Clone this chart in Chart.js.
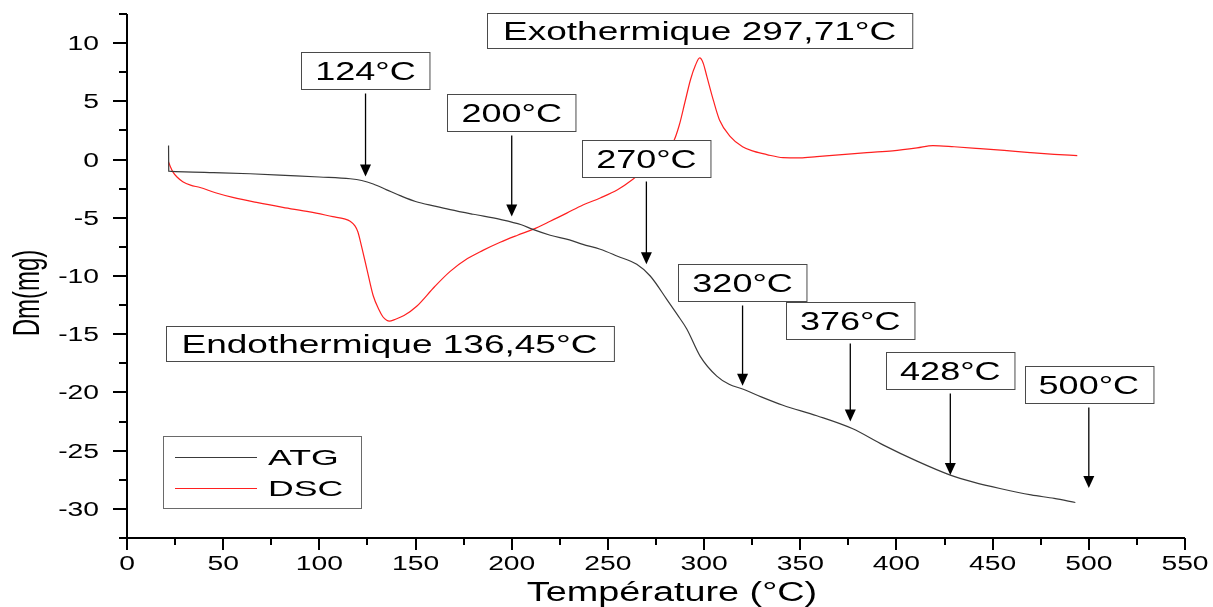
<!DOCTYPE html>
<html>
<head>
<meta charset="utf-8">
<script src="https://cdn.jsdelivr.net/npm/chart.js@4.4.1/dist/chart.umd.min.js"></script>
<style>
  html, body { margin: 0; padding: 0; background: #fff; }
  canvas { display: block; }
</style>
</head>
<body>
<canvas id="chart" width="1213" height="607"></canvas>
<script>
// ATG: mass loss (mg) against temperature (°C)
const atgTemp = [21.6, 21.7, 30, 45, 64, 85, 100, 116, 122, 128, 135, 142, 150, 160, 168, 180, 194, 205, 211,
  220, 230, 237, 246, 255, 265, 272, 280.6, 286, 291, 298, 306.6, 313, 320, 330, 341, 358.6, 377, 393,
  410.7, 428, 440, 453.8, 470, 482, 493];
const atgMass = [1.2, -1.0, -1.05, -1.12, -1.22, -1.38, -1.5, -1.65, -1.8, -2.1, -2.6, -3.1, -3.6, -4.0, -4.3,
  -4.7, -5.14, -5.6, -6.0, -6.5, -6.9, -7.28, -7.7, -8.3, -9.0, -10.0, -12.0, -13.3, -14.55, -16.9, -18.6,
  -19.3, -19.7, -20.4, -21.1, -22.0, -23.1, -24.5, -25.9, -27.1, -27.7, -28.25, -28.8, -29.1, -29.45];

// DSC: heat flow signal against temperature (°C)
const dscTemp = [21.6, 22.5, 24, 26, 29, 33, 38, 46, 55, 68, 81, 95, 107, 113, 116, 118.5, 120, 122, 124.7,
  128, 131, 133, 135, 136.45, 139, 144, 150.6, 160, 168, 177, 185, 194, 203, 211, 220, 228.6, 237, 246,
  255, 263, 268, 274, 280, 284, 287, 290, 293, 295.5, 297.71, 299.5, 301.5, 304.8, 308, 313.5, 320, 326,
  332.6, 341, 350, 358.6, 370, 384.6, 398, 410.7, 419, 430, 443.5, 456, 469.5, 482, 494];
const dscSignal = [-0.2, -0.6, -1.1, -1.5, -1.9, -2.2, -2.4, -2.85, -3.25, -3.7, -4.1, -4.5, -4.9, -5.1, -5.3,
  -5.7, -6.2, -7.5, -9.4, -11.7, -12.9, -13.5, -13.8, -13.87, -13.75, -13.4, -12.6, -10.9, -9.6, -8.5, -7.8,
  -7.1, -6.5, -6.0, -5.3, -4.6, -3.9, -3.3, -2.6, -1.7, -1.0, -0.3, 0.7, 1.5, 2.9, 4.9, 6.9, 8.1, 8.73, 8.3,
  7.1, 5.1, 3.4, 2.0, 1.1, 0.7, 0.43, 0.17, 0.15, 0.26, 0.4, 0.6, 0.75, 1.0, 1.2, 1.1, 0.94, 0.78, 0.6,
  0.45, 0.34];

// Axis ticks
const xTicks = [0, 50, 100, 150, 200, 250, 300, 350, 400, 450, 500, 550];
const yTicks = [-30, -25, -20, -15, -10, -5, 0, 5, 10];

// Annotated temperatures on the ATG curve and the DSC peaks
const markTemps = [124, 200, 270, 320, 376, 428, 500];
const peakNames = ['Endothermique', 'Exothermique'];
const peakTemps = [136.45, 297.71];

// Callout placement (box top and arrow tip, in mg units)
const markBoxTop = [9.25, 5.65, 1.71, -9.0, -12.24, -16.5, -17.7];
const markArrowTip = [-1.46, -4.88, -9.0, -19.43, -22.5, -27.1, -28.2];
const peakBoxTop = [-14.3, 12.6];

const FONT = '"Liberation Sans", Arial, Helvetica, sans-serif';
const ATG_COLOR = '#3a3a3a';
const DSC_COLOR = '#ff2020';

function toPoints(xs, ys) { return xs.map((x, i) => ({ x, y: ys[i] })); }
function frNumber(v) { return String(v).replace('.', ','); }

// Text drawn with a horizontal stretch factor
function drawText(ctx, str, x, y, size, sx, align, rot) {
  ctx.save();
  ctx.font = size + 'px ' + FONT;
  ctx.textAlign = align || 'center';
  ctx.textBaseline = 'alphabetic';
  ctx.fillStyle = '#000';
  ctx.translate(x, y);
  ctx.scale(sx, 1);
  if (rot) ctx.rotate(rot);
  ctx.fillText(str, 0, 0);
  ctx.restore();
}
function textWidth(ctx, str, size, sx) {
  ctx.save();
  ctx.font = size + 'px ' + FONT;
  const w = ctx.measureText(str).width * sx;
  ctx.restore();
  return w;
}

function drawBox(ctx, cx, top, label, size, sx, pad, h) {
  const w = textWidth(ctx, label, size, sx) + 2 * pad;
  const left = Math.round(cx - w / 2) + 0.5;
  const t = Math.round(top) + 0.5;
  ctx.save();
  ctx.fillStyle = '#fff';
  ctx.fillRect(left, t, w, h);
  ctx.strokeStyle = '#4a4a4a';
  ctx.lineWidth = 1;
  ctx.strokeRect(left, t, w, h);
  ctx.restore();
  drawText(ctx, label, cx, t + h / 2 + 0.358 * size, size, sx, 'center');
  return { bottom: t + h };
}

function drawArrow(ctx, x, y0, y1) {
  ctx.save();
  ctx.strokeStyle = '#000';
  ctx.fillStyle = '#000';
  ctx.lineWidth = 1.3;
  ctx.beginPath();
  ctx.moveTo(x, y0);
  ctx.lineTo(x, y1 - 10);
  ctx.stroke();
  ctx.beginPath();
  ctx.moveTo(x - 5.5, y1 - 12);
  ctx.lineTo(x + 5.5, y1 - 12);
  ctx.lineTo(x, y1);
  ctx.closePath();
  ctx.fill();
  ctx.restore();
}

const axesAndLabels = {
  id: 'axesAndLabels',
  afterDatasetsDraw(chart) {
    const { ctx, chartArea: a, scales: { x, y } } = chart;

    // Callouts for the annotated temperatures
    markTemps.forEach((t, i) => {
      const px = x.getPixelForValue(t);
      const box = drawBox(ctx, px, y.getPixelForValue(markBoxTop[i]), t + '°C', 25, 1.44, 14, 37);
      drawArrow(ctx, px, box.bottom + 4, y.getPixelForValue(markArrowTip[i]));
    });
    // DSC peak labels
    peakTemps.forEach((t, i) => {
      const label = peakNames[i] + ' ' + frNumber(t) + '°C';
      drawBox(ctx, x.getPixelForValue(t), y.getPixelForValue(peakBoxTop[i]), label, 25, 1.48, 16, 35);
    });

    // Legend
    ctx.save();
    ctx.fillStyle = '#fff';
    ctx.fillRect(163.5, 436.5, 198, 72);
    ctx.strokeStyle = '#6a6a6a';
    ctx.lineWidth = 1;
    ctx.strokeRect(163.5, 436.5, 198, 72);
    chart.data.datasets.forEach((ds, i) => {
      const ly = 457 + i * 31;
      ctx.strokeStyle = ds.borderColor;
      ctx.lineWidth = 1.2;
      ctx.beginPath();
      ctx.moveTo(175, ly + 0.5);
      ctx.lineTo(257, ly + 0.5);
      ctx.stroke();
      drawText(ctx, ds.label, 268, ly + 0.358 * 22, 22, 1.62, 'left');
    });
    ctx.restore();

    // Axis lines and ticks
    ctx.save();
    ctx.strokeStyle = '#000';
    ctx.lineWidth = 2;
    ctx.beginPath();
    ctx.moveTo(a.left, a.top);
    ctx.lineTo(a.left, a.bottom);
    ctx.moveTo(a.left, a.bottom);
    ctx.lineTo(a.right, a.bottom);
    for (let v = x.min; v <= x.max + 1e-9; v += 25) {
      const px = Math.round(x.getPixelForValue(v));
      const len = v % 50 === 0 ? 12 : 7;
      ctx.moveTo(px, a.bottom);
      ctx.lineTo(px, a.bottom + len);
    }
    for (let k = Math.round(y.min / 2.5); k <= Math.round(y.max / 2.5); k++) {
      const v = k * 2.5;
      const py = Math.round(y.getPixelForValue(v));
      const len = k % 2 === 0 ? 14 : 8;
      ctx.moveTo(a.left, py);
      ctx.lineTo(a.left - len, py);
    }
    ctx.stroke();
    ctx.restore();

    xTicks.forEach(v => drawText(ctx, String(v), x.getPixelForValue(v), a.bottom + 25 + 0.358 * 19.5, 19.5, 1.45, 'center'));
    yTicks.forEach(v => drawText(ctx, String(v), a.left - 28, y.getPixelForValue(v) + 0.358 * 19.5, 19.5, 1.45, 'right'));

    // Axis titles
    drawText(ctx, 'Température (°C)', (a.left + a.right) / 2 + 16, 601, 27, 1.4, 'center');
    drawText(ctx, 'Dm(mg)', 39, (a.top + a.bottom) / 2 + 17, 24, 1.57, 'center', -Math.PI / 2);
  }
};

new Chart(document.getElementById('chart'), {
  type: 'line',
  data: {
    datasets: [
      { label: 'ATG', data: toPoints(atgTemp, atgMass), borderColor: ATG_COLOR, borderWidth: 1.2,
        pointRadius: 0, cubicInterpolationMode: 'monotone', fill: false },
      { label: 'DSC', data: toPoints(dscTemp, dscSignal), borderColor: DSC_COLOR, borderWidth: 1.2,
        pointRadius: 0, cubicInterpolationMode: 'monotone', fill: false }
    ]
  },
  options: {
    responsive: false,
    devicePixelRatio: 1,
    animation: false,
    layout: { padding: { left: 127, right: 28, top: 14, bottom: 69 } },
    scales: {
      x: { type: 'linear', min: 0, max: 550, display: false },
      y: { type: 'linear', min: -32.5, max: 12.5, display: false }
    },
    plugins: { legend: { display: false }, tooltip: { enabled: false } }
  },
  plugins: [axesAndLabels]
});
</script>
</body>
</html>
